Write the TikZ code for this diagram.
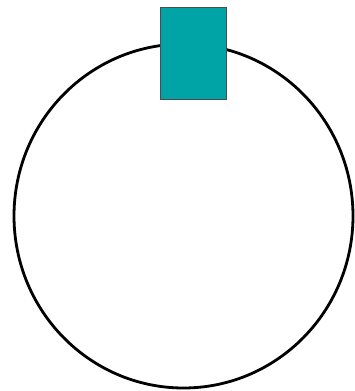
\documentclass[tikz,border=0pt]{standalone}
\usepackage{xcolor}
\usepackage{tikz}
\usetikzlibrary{shapes.geometric}
\definecolor{tabteal}{HTML}{00A3A6}

\begin{document}
\begin{tikzpicture}[x=1pt, y=-1pt, every node/.style={inner sep=0pt, outer sep=0pt}]
  \useasboundingbox (0,0) rectangle (354,391);
  % Ring
  \node[ellipse, draw=black, line width=2.8pt, minimum width=339pt, minimum height=344pt] (ring) at (183.5,216) {};

  % Tab on top
  \node[rectangle, fill=tabteal, draw=black!70, line width=0.7pt, minimum width=66pt, minimum height=92pt] (tab) at (193,53) {};
\end{tikzpicture}
\end{document}
